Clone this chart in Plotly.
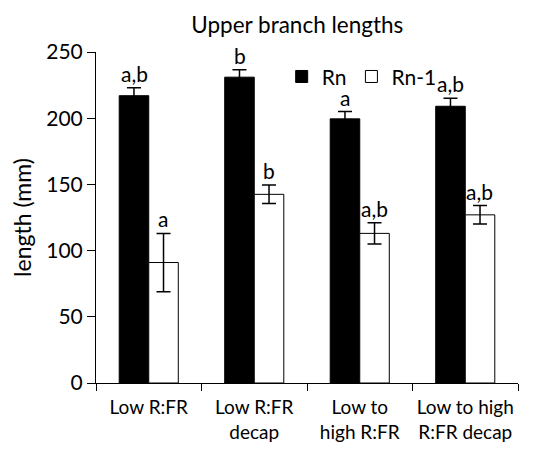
import plotly.graph_objects as go

categories = ["Low R:FR", "Low R:FR<br>decap", "Low to<br>high R:FR", "Low to high<br>R:FR decap"]
rn_values = [217, 231, 199.5, 209]
rn_errors = [6, 5.5, 5.5, 6]
rn1_values = [91, 142.5, 113, 127]
rn1_errors = [22, 7, 8, 7]
rn_letters = ["a,b", "b", "a", "a,b"]
rn1_letters = ["a", "b", "a,b", "a,b"]

FONT = "Lato, Carlito, Calibri, sans-serif"

fig = go.Figure()
fig.add_trace(go.Bar(
    name="Rn", x=categories, y=rn_values,
    marker=dict(color="black", line=dict(color="black", width=1)),
    error_y=dict(type="data", array=rn_errors, color="black", thickness=1.5, width=7),
))
fig.add_trace(go.Bar(
    name="Rn-1", x=categories, y=rn1_values,
    marker=dict(color="white", line=dict(color="black", width=1)),
    error_y=dict(type="data", array=rn1_errors, color="black", thickness=1.5, width=7),
))

annotations = []
for i, c in enumerate(categories):
    annotations.append(dict(x=c, y=rn_values[i] + rn_errors[i], text=rn_letters[i],
                            xref="x", yref="y", showarrow=False, yanchor="bottom",
                            xshift=-14.5, yshift=0, font=dict(size=21, color="black", family=FONT)))
    annotations.append(dict(x=c, y=rn1_values[i] + rn1_errors[i], text=rn1_letters[i],
                            xref="x", yref="y", showarrow=False, yanchor="bottom",
                            xshift=14.5, yshift=0, font=dict(size=21, color="black", family=FONT)))

# The page body has an 8px default margin at top/left, so the figure is 8px smaller
# and the left/top margins are reduced accordingly.
fig.update_layout(
    width=550, height=442,
    margin=dict(l=88, r=40, t=44, b=67),
    paper_bgcolor="white", plot_bgcolor="white",
    font=dict(family=FONT, color="black", size=20),
    title=dict(text="Upper branch lengths", x=0.526, xanchor="center", y=0.9615, yanchor="middle",
               font=dict(size=22.5, family=FONT, color="black")),
    barmode="group", bargap=0.44, bargroupgap=0,
    showlegend=True,
    legend=dict(orientation="h", x=0.44, y=0.925, xanchor="left", yanchor="middle",
                font=dict(size=21, family=FONT), bgcolor="rgba(0,0,0,0)",
                itemwidth=30, tracegroupgap=0),
    annotations=annotations,
)
fig.update_yaxes(range=[0, 250], tickvals=[0, 50, 100, 150, 200, 250], showgrid=False,
                 showline=True, linecolor="black", linewidth=1, ticks="outside", ticklen=8,
                 tickcolor="black", tickfont=dict(size=21, family=FONT), zeroline=False,
                 automargin=False,
                 title=dict(text="length (mm)", font=dict(size=23, family=FONT), standoff=10))
fig.update_xaxes(showgrid=False, showline=True, linecolor="black", linewidth=1,
                 ticks="outside", ticklen=7, tickcolor="black", tickson="boundaries",
                 tickangle=0, automargin=False, ticklabelstandoff=7,
                 tickfont=dict(size=19, family=FONT))

fig.write_html("out.html")
